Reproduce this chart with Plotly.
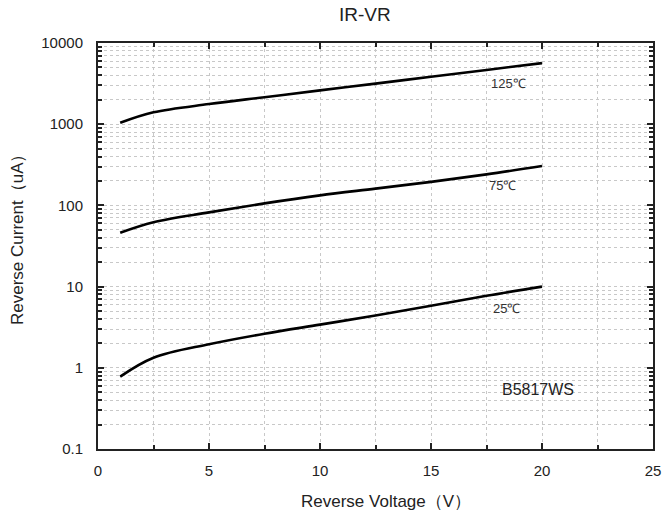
import math
import plotly.graph_objects as go

voltage = [1, 2.5, 5, 7.5, 10, 12.5, 15, 17.5, 20]
ir_125 = [1040, 1400, 1770, 2150, 2610, 3160, 3840, 4660, 5650]
ir_75 = [46, 62, 82, 106, 133, 161, 195, 241, 305]
ir_25 = [0.78, 1.33, 1.95, 2.63, 3.4, 4.4, 5.8, 7.7, 10.0]

y_tickvals = [0.1, 1, 10, 100, 1000, 10000]
y_ticktext = ["0.1", "1", "10", "100", "1000", "10000"]
x_tickvals = [0, 5, 10, 15, 20, 25]

labels = [("125℃", 18.5, 3210), ("75℃", 18.2, 178), ("25℃", 18.4, 5.45)]
part_label = ("B5817WS", 19.8, 0.533)

FONT = "Liberation Sans, Arial, sans-serif"
INK = "#222222"

fig = go.Figure()
for ys in (ir_125, ir_75, ir_25):
    fig.add_trace(go.Scatter(x=voltage, y=ys, mode="lines",
                             line=dict(color="black", width=2.6, shape="spline", smoothing=1.0),
                             showlegend=False, hoverinfo="skip"))

for txt, xv, yv in labels:
    fig.add_annotation(x=xv, y=math.log10(yv), yref="y", xref="x", text=txt, showarrow=False,
                       xanchor="center", yanchor="middle",
                       font=dict(size=13, color="#333333", family=FONT))
fig.add_annotation(x=part_label[1], y=math.log10(part_label[2]), xref="x", yref="y",
                   text=part_label[0], showarrow=False, xanchor="center", yanchor="middle",
                   font=dict(size=16, color=INK, family=FONT))

# chart title and axis titles
fig.add_annotation(x=0.481, y=1.069, xref="paper", yref="paper", text="IR-VR",
                   xanchor="center", yanchor="middle",
                   showarrow=False, font=dict(size=19, color=INK, family=FONT))
fig.add_annotation(x=0.519, y=-0.1305, xref="paper", yref="paper", text="Reverse Voltage（V）",
                   xanchor="center", yanchor="middle",
                   showarrow=False, font=dict(size=17, color=INK, family=FONT))
fig.add_annotation(x=-0.146, y=0.527, xref="paper", yref="paper", text="Reverse Current（uA）",
                   xanchor="center", yanchor="middle",
                   textangle=-90, showarrow=False, font=dict(size=17, color=INK, family=FONT))

grid_col = "#c8c8c8"
fig.update_layout(
    width=665, height=518,
    margin=dict(l=98, r=12, t=43, b=69),
    paper_bgcolor="white", plot_bgcolor="white",
    font=dict(family=FONT, size=15, color=INK),
    xaxis=dict(range=[0, 25], tickvals=x_tickvals, ticks="inside", ticklen=6, tickwidth=1.5,
               tickcolor=INK, showline=True, linecolor=INK, linewidth=2, automargin=False,
               mirror="allticks", showgrid=True, gridcolor=grid_col, griddash="dot", gridwidth=1,
               zeroline=False, ticklabelstandoff=7,
               minor=dict(dtick=2.5, ticks="inside", ticklen=4, tickcolor=INK,
                          showgrid=True, gridcolor=grid_col, griddash="dot"),
               tickfont=dict(size=15)),
    yaxis=dict(type="log", range=[-1, 4], tickvals=y_tickvals, ticktext=y_ticktext,
               ticks="inside", ticklen=6, tickwidth=1.5, tickcolor=INK, automargin=False,
               showline=True, linecolor=INK, linewidth=2, mirror="allticks",
               showgrid=True, gridcolor=grid_col, griddash="dot", gridwidth=1, zeroline=False,
               ticklabelstandoff=10,
               minor=dict(dtick="D1", ticks="inside", ticklen=4, tickcolor=INK,
                          showgrid=True, gridcolor=grid_col, griddash="dot"),
               tickfont=dict(size=15)),
)

fig.write_html("out.html", config={"displayModeBar": False},
               post_script="document.body.style.margin='0';document.body.style.overflow='hidden';")
